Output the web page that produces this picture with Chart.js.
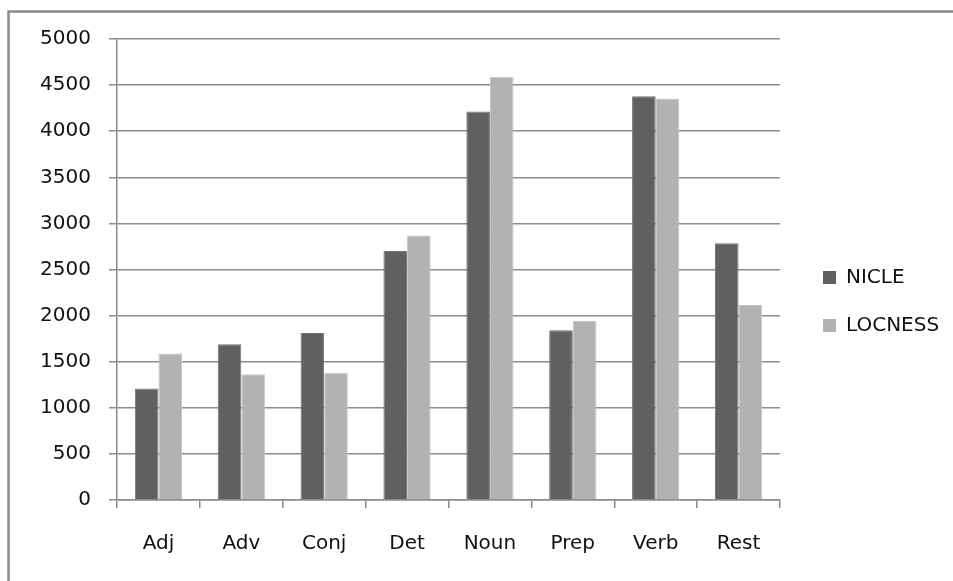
<!DOCTYPE html>
<html>
<head>
<meta charset="utf-8">
<script src="https://cdn.jsdelivr.net/npm/chart.js@4/dist/chart.umd.min.js"></script>
<style>
    html, body { margin: 0; padding: 0; background: #fff; overflow: hidden; }
    #contenedor { position: absolute; left: 0; top: 0; width: 953px; height: 581px; }
</style>
</head>
<body>
<div id="contenedor"><canvas id="miGrafica" width="953" height="581"></canvas></div>
<script>
// Categorías gramaticales y frecuencias de cada corpus
const categorias = ['Adj', 'Adv', 'Conj', 'Det', 'Noun', 'Prep', 'Verb', 'Rest'];
const datosNicle = [1210, 1690, 1810, 2700, 4215, 1840, 4380, 2785];
const datosLocness = [1590, 1365, 1380, 2870, 4590, 1945, 4355, 2115];
const nombresSeries = ['NICLE', 'LOCNESS'];

const fuente = { family: 'DejaVu Sans', size: 20 };
const colorLineas = '#8c8c8c';

// Marco exterior: sólo se ven los lados superior e izquierdo
const marcoExterior = {
    id: 'marcoExterior',
    beforeDraw(chart) {
        const ctx = chart.ctx;
        ctx.save();
        ctx.strokeStyle = '#8a8a8a';
        ctx.lineWidth = 2.5;
        ctx.beginPath();
        ctx.moveTo(chart.width + 5, 11.5);
        ctx.lineTo(8.5, 11.5);
        ctx.lineTo(8.5, chart.height + 5);
        ctx.stroke();
        ctx.restore();
    }
};

// Leyenda dibujada a mano a la derecha del área del gráfico
const leyendaDerecha = {
    id: 'leyendaDerecha',
    afterDraw(chart) {
        const ctx = chart.ctx;
        ctx.save();
        ctx.font = fuente.size + 'px ' + fuente.family;
        ctx.textBaseline = 'middle';
        chart.data.datasets.forEach((ds, i) => {
            const y = 278 + i * 48;
            ctx.fillStyle = ds.backgroundColor;
            ctx.fillRect(823, y - 7, 13, 13);
            ctx.fillStyle = '#111';
            ctx.fillText(ds.label, 846, y);
        });
        ctx.restore();
    }
};

let ctx = document.getElementById('miGrafica').getContext('2d');
let miGrafica = new Chart(ctx, {
    type: 'bar',
    data: {
        labels: categorias,
        datasets: [
            {
                label: nombresSeries[0],
                data: datosNicle,
                backgroundColor: '#606060',
                borderColor: '#727272',
                borderWidth: 1,
                categoryPercentage: 0.57,
                barPercentage: 1.0
            },
            {
                label: nombresSeries[1],
                data: datosLocness,
                backgroundColor: '#b2b2b2',
                borderColor: '#c4c4c4',
                borderWidth: 1,
                categoryPercentage: 0.57,
                barPercentage: 1.0
            }
        ]
    },
    options: {
        responsive: false,
        animation: false,
        layout: {
            padding: { left: 0, right: 173, top: 39, bottom: 0 }
        },
        plugins: {
            legend: { display: false },
            tooltip: { enabled: false }
        },
        scales: {
            x: {
                grid: {
                    offset: true,
                    drawOnChartArea: false,
                    drawTicks: true,
                    tickLength: 8,
                    color: colorLineas,
                    lineWidth: 1.5
                },
                border: { color: colorLineas, width: 1.5 },
                ticks: { color: '#111', font: fuente, padding: 24, maxRotation: 0 },
                afterFit(scale) { scale.height = 81; }
            },
            y: {
                min: 0,
                max: 5000,
                grid: {
                    color: colorLineas,
                    lineWidth: 1.5,
                    drawTicks: true,
                    tickLength: 8
                },
                border: { color: colorLineas, width: 1.5 },
                ticks: {
                    stepSize: 500,
                    color: '#111',
                    font: fuente,
                    padding: 18,
                    callback: (valor) => String(valor)
                },
                afterFit(scale) { scale.width = 117; }
            }
        }
    },
    plugins: [marcoExterior, leyendaDerecha]
});
</script>
</body>
</html>
